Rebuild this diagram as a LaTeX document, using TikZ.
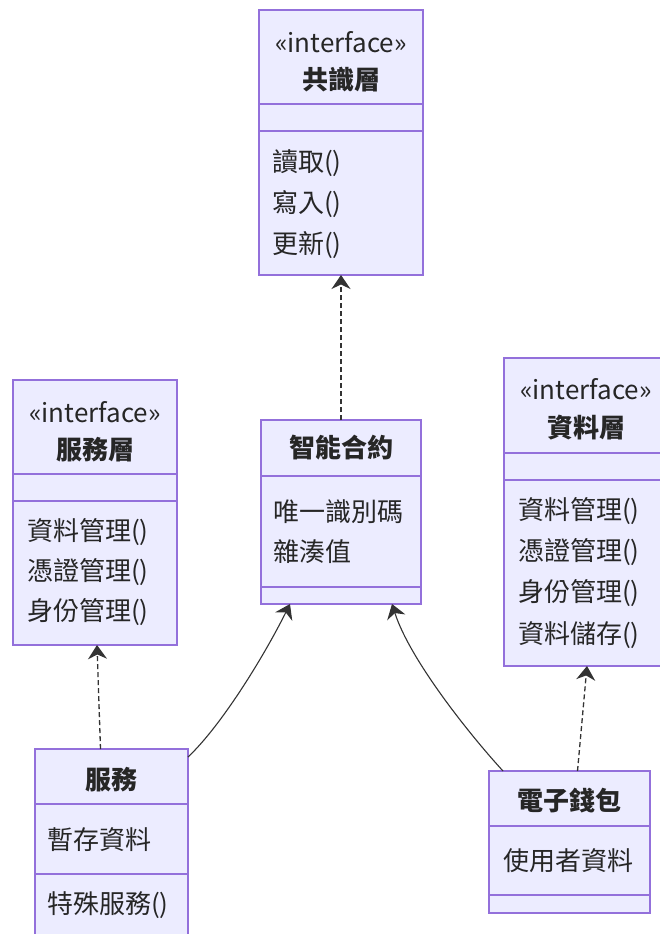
\documentclass[tikz,border=0pt]{standalone}
\usepackage{fontspec}
\setmainfont{Noto Sans CJK TC}
\usetikzlibrary{arrows.meta}
\definecolor{clsfill}{HTML}{ECECFF}
\definecolor{clsdraw}{HTML}{9370DB}
\definecolor{lnk}{HTML}{333333}
\begin{document}
\begin{tikzpicture}[x=1pt,y=1pt,
  cls/.style={draw=clsdraw,fill=clsfill,line width=1.5pt,inner sep=0pt,outer sep=0pt},
  sep/.style={draw=clsdraw,line width=1.5pt},
  txt/.style={inner sep=0pt,text=black!85,font=\fontsize{26}{30}\selectfont},
  mem/.style={txt,anchor=west},
  ttl/.style={txt,font=\fontsize{26}{30}\selectfont\bfseries},
  tip/.style={-{Stealth[length=14pt,width=19pt,inset=4.5pt]}},
  dep/.style={draw=lnk,line width=1.3pt,dash pattern=on 5pt off 3pt,tip},
  inh/.style={draw=lnk,line width=1.1pt,tip}]
\useasboundingbox (0,0) rectangle (659,-934);
% class boxes
\node[cls,minimum width=164pt,minimum height=265pt] (gsl) at (341,-142.5) {};
\node[cls,minimum width=164pt,minimum height=265pt] (svl) at (95,-512.5) {};
\node[cls,minimum width=160pt,minimum height=184pt] (sca) at (341,-512) {};
\node[cls,minimum width=164pt,minimum height=308pt] (dtl) at (586,-512) {};
\node[cls,minimum width=153pt,minimum height=195pt] (svc) at (111.5,-846.5) {};
\node[cls,minimum width=161pt,minimum height=142pt] (wal) at (569.5,-842) {};
% compartments
\draw[sep] ([yshift=-94pt]gsl.north west) -- ([yshift=-94pt]gsl.north east);
\draw[sep] ([yshift=-121pt]gsl.north west) -- ([yshift=-121pt]gsl.north east);
\draw[sep] ([yshift=-94pt]svl.north west) -- ([yshift=-94pt]svl.north east);
\draw[sep] ([yshift=-121pt]svl.north west) -- ([yshift=-121pt]svl.north east);
\draw[sep] ([yshift=-56pt]sca.north west) -- ([yshift=-56pt]sca.north east);
\draw[sep] ([yshift=-167pt]sca.north west) -- ([yshift=-167pt]sca.north east);
\draw[sep] ([yshift=-95pt]dtl.north west) -- ([yshift=-95pt]dtl.north east);
\draw[sep] ([yshift=-122pt]dtl.north west) -- ([yshift=-122pt]dtl.north east);
\draw[sep] ([yshift=-55pt]svc.north west) -- ([yshift=-55pt]svc.north east);
\draw[sep] ([yshift=-125pt]svc.north west) -- ([yshift=-125pt]svc.north east);
\draw[sep] ([yshift=-55pt]wal.north west) -- ([yshift=-55pt]wal.north east);
\draw[sep] ([yshift=-124pt]wal.north west) -- ([yshift=-124pt]wal.north east);
% 共識層
\node[txt] (gslst) at (341,-42) {«interface»};
\node[ttl] (gslname) at (341,-80) {共識層};
\node[mem] (gslm1) at (272,-163) {讀取()};
\node[mem] (gslm2) at (272,-204) {寫入()};
\node[mem] (gslm3) at (272,-245) {更新()};
% 服務層
\node[txt] (svlst) at (95,-412) {«interface»};
\node[ttl] (svlname) at (95,-450) {服務層};
\node[mem] (svlm1) at (27,-532) {資料管理()};
\node[mem] (svlm2) at (27,-572) {憑證管理()};
\node[mem] (svlm3) at (27,-612) {身份管理()};
% 智能合約
\node[ttl] (scaname) at (341,-448) {智能合約};
\node[mem] (scaa1) at (273,-512) {唯一識別碼};
\node[mem] (scaa2) at (273,-552) {雜湊值};
% 資料層
\node[txt] (dtlst) at (586,-389) {«interface»};
\node[ttl] (dtlname) at (586,-428) {資料層};
\node[mem] (dtlm1) at (518,-511) {資料管理()};
\node[mem] (dtlm2) at (518,-552) {憑證管理()};
\node[mem] (dtlm3) at (518,-593) {身份管理()};
\node[mem] (dtlm4) at (518,-635) {資料儲存()};
% 服務
\node[ttl] (svcname) at (111.5,-780) {服務};
\node[mem] (svca1) at (47,-840) {暫存資料};
\node[mem] (svcm1) at (47,-905) {特殊服務()};
% 電子錢包
\node[ttl] (walname) at (569.5,-801) {電子錢包};
\node[mem] (wala1) at (503,-861) {使用者資料};
% relations
\draw[dep] (sca.north) -- (gsl.south);
\draw[dep] ([xshift=-11pt]svc.north) -- ([xshift=2pt]svl.south);
\draw[dep] ([xshift=8pt]wal.north) -- ([xshift=1pt]dtl.south);
\draw[inh] ([yshift=-8pt]svc.north east) .. controls (220,-727) and (262,-660) .. ([xshift=-51pt]sca.south);
\draw[inh] ([xshift=-66.5pt]wal.north) .. controls (470,-735) and (410,-660) .. ([xshift=51pt]sca.south);
\end{tikzpicture}
\end{document}
